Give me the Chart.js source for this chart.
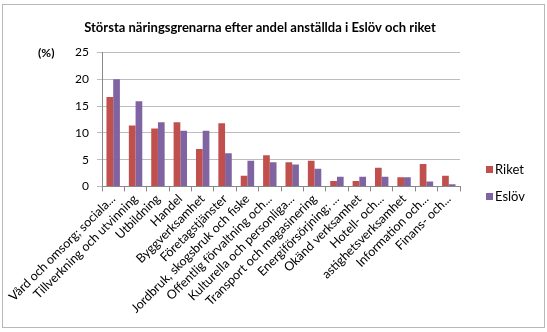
<!DOCTYPE html>
<html>
<head>
<meta charset="utf-8">
<script src="https://cdn.jsdelivr.net/npm/chart.js@4/dist/chart.umd.min.js"></script>
<style>
  html, body { margin: 0; padding: 0; background: #fff; }
  #wrap { width: 547px; height: 332px; }
</style>
</head>
<body>
<div id="wrap"><canvas id="chart"></canvas></div>
<script>
// Näringsgrenar (x-axeln)
const kategorier = [
    'Vård och omsorg; sociala...',
    'Tillverkning och utvinning',
    'Utbildning',
    'Handel',
    'Byggverksamhet',
    'Företagstjänster',
    'Jordbruk, skogsbruk och fiske',
    'Offentlig förvaltning och...',
    'Kulturella och personliga...',
    'Transport och magasinering',
    'Energiförsörjning; ...',
    'Okänd verksamhet',
    'Hotell- och...',
    'astighetsverksamhet',
    'Information och...',
    'Finans- och...'
];

// Andel anställda (%)
const riket = [16.7, 11.4, 10.8, 12.0, 7.0, 11.8, 2.0, 5.8, 4.5, 4.8, 1.0, 1.0, 3.5, 1.7, 4.2, 2.0];
const eslov = [20.0, 15.9, 12.0, 10.4, 10.4, 6.2, 4.8, 4.5, 4.1, 3.3, 1.8, 1.8, 1.8, 1.7, 0.9, 0.4];

const yTicks = [0, 5, 10, 15, 20, 25];

const fontFamily = 'Lato, "Open Sans", sans-serif';

// Ram runt diagrammet, "(%)"-etikett och förklaring till höger
const ramPlugin = {
    id: 'ram',
    beforeDraw(chart) {
        const ctx = chart.ctx;
        ctx.save();
        ctx.strokeStyle = '#b8b8b8';
        ctx.lineWidth = 1;
        ctx.strokeRect(2.5, 4.5, chart.width - 5, chart.height - 9);
        ctx.restore();
    },
    afterDraw(chart) {
        const ctx = chart.ctx;
        const y = chart.scales.y;
        ctx.save();
        ctx.fillStyle = '#000';
        ctx.font = 'bold 12px ' + fontFamily;
        ctx.textAlign = 'left';
        ctx.textBaseline = 'middle';
        ctx.fillText('(%)', 38, y.getPixelForValue(25) + 1);

        // förklaring
        ctx.font = '13px ' + fontFamily;
        const x0 = chart.chartArea.right + 26;
        chart.data.datasets.forEach((ds, i) => {
            const ly = 170 + i * 27;
            ctx.fillStyle = ds.backgroundColor;
            ctx.fillRect(x0, ly - 4, 7, 7);
            ctx.fillStyle = '#000';
            ctx.fillText(ds.label, x0 + 9, ly);
        });
        ctx.restore();
    }
};

new Chart(document.getElementById('chart'), {
    type: 'bar',
    data: {
        labels: kategorier,
        datasets: [
            {
                label: 'Riket',
                data: riket,
                backgroundColor: '#C0504D'
            },
            {
                label: 'Eslöv',
                data: eslov,
                backgroundColor: '#8064A2'
            }
        ]
    },
    options: {
        responsive: true,
        maintainAspectRatio: false,
        animation: false,
        layout: {
            padding: { left: 60, right: 87, top: 10, bottom: 16 }
        },
        datasets: {
            bar: {
                categoryPercentage: 0.6,
                barPercentage: 1.0
            }
        },
        plugins: {
            title: {
                display: true,
                text: 'Största näringsgrenarna efter andel anställda i Eslöv och riket',
                color: '#000',
                font: { family: fontFamily, size: 13, weight: 'bold' },
                padding: { top: 10, bottom: 17 }
            },
            legend: { display: false },
            tooltip: { enabled: false }
        },
        scales: {
            x: {
                grid: {
                    drawOnChartArea: false,
                    drawTicks: true,
                    tickLength: 5,
                    color: '#888'
                },
                border: { color: '#888' },
                ticks: {
                    color: '#000',
                    maxRotation: 45,
                    minRotation: 45,
                    autoSkip: false,
                    padding: 0,
                    font: { family: fontFamily, size: 12.5 }
                }
            },
            y: {
                min: 0,
                max: 25,
                afterBuildTicks: (scale) => {
                    scale.ticks = yTicks.map(v => ({ value: v }));
                },
                afterFit: (scale) => {
                    scale.width = 42;
                },
                grid: {
                    color: '#bdbdbd',
                    tickLength: 5
                },
                border: { color: '#888' },
                ticks: {
                    color: '#000',
                    padding: 8,
                    font: { family: fontFamily, size: 12 }
                }
            }
        }
    },
    plugins: [ramPlugin]
});
</script>
</body>
</html>
